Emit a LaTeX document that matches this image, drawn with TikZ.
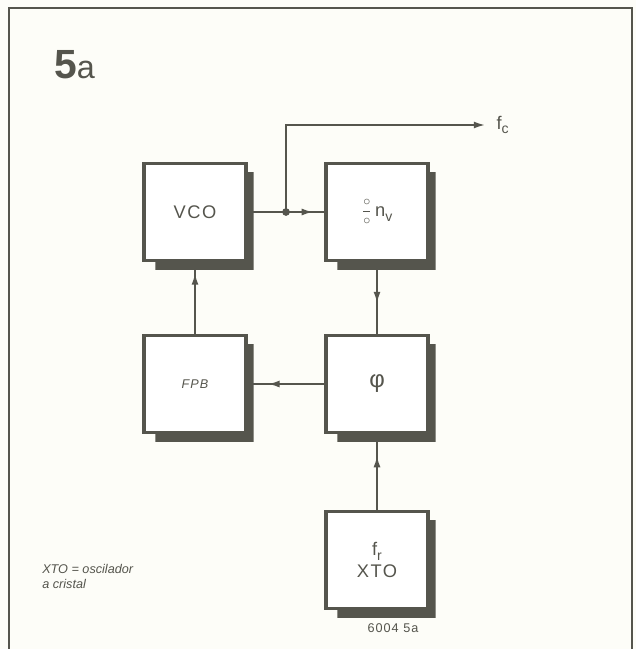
\documentclass[tikz,border=0pt]{standalone}
\usepackage{fontspec}
\setmainfont{Liberation Sans}
\newfontfamily\spacedfont[LetterSpace=8]{Liberation Sans}
\usetikzlibrary{arrows.meta,decorations.markings}
\definecolor{ink}{HTML}{55554D}
\definecolor{paper}{HTML}{FDFDF8}

\newcommand\boxshadow[1]{%
    \fill[ink] ([shift={(0,10)}]#1.north east) -- ([shift={(6,10)}]#1.north east)
        -- ([shift={(6,8)}]#1.south east) -- ([shift={(13,8)}]#1.south west)
        -- ([shift={(13,0)}]#1.south west) -- (#1.south east) -- cycle;}

\begin{document}
\begin{tikzpicture}[
    x=0.025cm, y=-0.025cm,
    block/.style={draw=ink, line width=2.2pt, fill=white, minimum width=2.55cm, minimum height=2.42cm,
        inner sep=0pt, align=center, text=ink, font=\spacedfont\fontsize{13}{15}\selectfont},
    dot/.style={circle, fill=ink, inner sep=0pt, minimum size=5.5pt},
    wire/.style={draw=ink, line width=1.2pt},
    arr/.style={wire, postaction=decorate,
        decoration={markings, mark=at position #1 with {\arrow{Latex[length=8pt,width=5pt]}}}},
    note/.style={text=ink, inner sep=0pt}
]
    \fill[paper] (0,0) rectangle (636,649);
    \useasboundingbox (0,0) rectangle (636,649);
    \draw[ink, line width=1.6pt] (9,649) -- (9,8) -- (632,8) -- (632,649);

    \node[note, anchor=base west] (title) at (54,79)
        {{\fontsize{29}{29}\selectfont\bfseries 5}{\fontsize{23}{23}\selectfont a}};

    \node[block] (vco) at (195,212) {VCO};
    \node[block] (div) at (377,212)
        {\raisebox{0.2ex}{\normalfont\fontsize{10}{10}\selectfont$\displaystyle\frac{\circ}{\circ}$}\,n\raisebox{-0.45ex}{\fontsize{10}{10}\selectfont v}};
    \node[block, font=\spacedfont\itshape\fontsize{9}{11}\selectfont] (lpf) at (195,384) {FPB};
    \node[block, font=\fontsize{17}{17}\selectfont] (pd) at (377,384) {φ};
    \node[block] (xto) at (377,560) {f\raisebox{-0.45ex}{\fontsize{10}{10}\selectfont r}\\XTO};

    \node[dot] (tap) at (286,212) {};
    \coordinate (out) at (485,125);
    \node[note, anchor=west, font=\fontsize{13}{13}\selectfont] (fc) at ([xshift=8]out)
        {f\raisebox{-0.45ex}{\fontsize{10}{10}\selectfont c}};

    \draw[arr=0.85] (vco) -- (div);
    \draw[arr=0.57] (div) -- (pd);
    \draw[arr=0.73] (pd) -- (lpf);
    \draw[arr=0.84] (lpf) -- (vco);
    \draw[arr=0.71] (xto) -- (pd);
    \draw[wire, -{Latex[length=8pt,width=5pt]}] (tap.center) |- (out);

    \foreach \b in {vco,div,lpf,pd,xto}
        \boxshadow{\b};

    \node[note, anchor=base west, align=left, font=\itshape\fontsize{9}{10.5}\selectfont] (key) at (42,588)
        {XTO = oscilador\\a cristal};
    \node[note, font=\spacedfont\fontsize{9}{9}\selectfont] (code) at (393,628) {6004 5a};
\end{tikzpicture}
\end{document}
